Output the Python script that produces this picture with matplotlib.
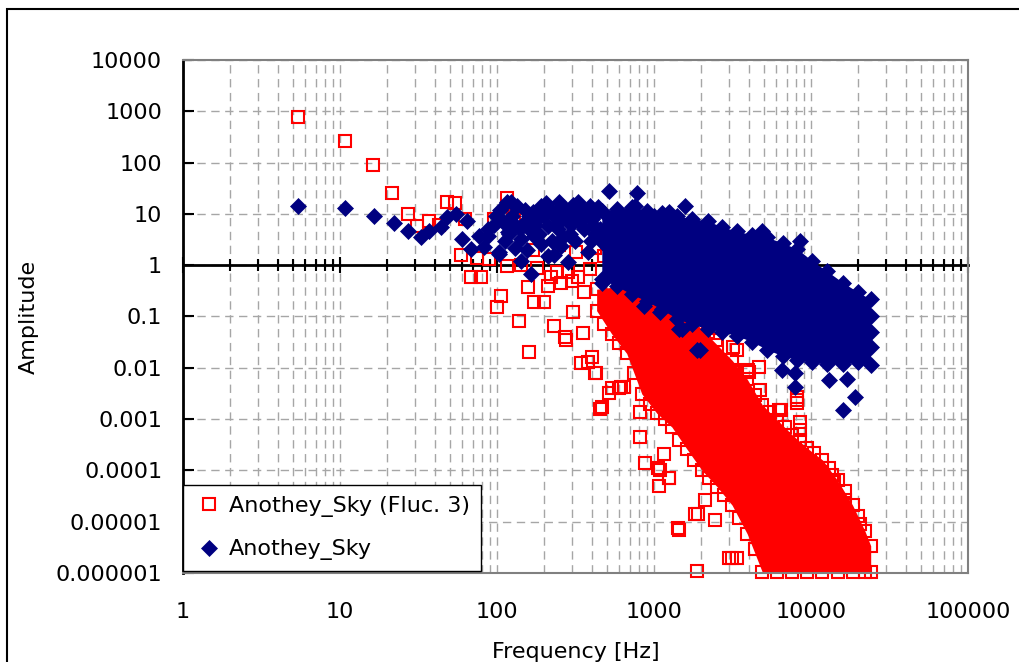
import matplotlib
matplotlib.use("Agg")
import matplotlib.pyplot as plt
from matplotlib.patches import Rectangle

# ---- data (Hz, amplitude) ----
# individual red squares (Fluc. 3) outside the dense band
red_f = [5.4, 10.8, 16.2, 21.5, 27, 31, 37, 43, 48, 54, 59, 63, 68, 75, 79, 89, 96, 100, 106,
         116, 116, 126, 128, 138, 143, 158, 160, 170, 172, 180, 200, 212, 220, 230, 240, 250,
         257, 270, 276, 285, 300, 306, 320, 330, 345, 355, 360, 380, 390, 400, 418, 420, 430,
         450, 465, 480, 515, 540, 560, 600, 620, 640, 700, 810, 810, 870, 1060, 1080, 1100,
         1150, 1240, 1250, 1430, 1440, 1830, 1870, 1900, 2100, 2460, 3000, 3150, 3400, 2220,
         2460, 2500, 2500, 3170, 3200, 3240, 3400, 3630, 3950, 4050, 4670, 4700, 6300, 6400,
         8200, 8200, 8200, 8500, 8500, 11800, 13600, 14000, 16500, 20500,
         480, 600, 750, 940, 1170, 1450, 1800, 2250, 2800, 3500, 4400,
         4400, 5500, 6800, 8500, 10500, 13000, 16500, 20000]
red_a = [780, 260, 88, 26, 10, 5.8, 7.3, 6, 17, 16, 1.6, 8, 0.58, 1.4, 0.58, 1.3, 8, 0.15, 0.25,
         20, 0.95, 13, 9, 0.08, 1.0, 0.37, 0.02, 2.0, 0.19, 0.9, 0.19, 0.39, 0.6, 0.064, 0.75, 2.5,
         0.46, 0.039, 0.035, 0.73, 0.5, 0.125, 1.8, 0.6, 0.0125, 0.048, 0.3, 0.013, 0.83, 0.016,
         0.008, 2.2, 0.008, 0.0016, 0.0017, 1.5, 0.0033, 0.004, 1.2, 0.004, 0.0042, 0.0042, 0.9,
         0.0014, 4.5e-4, 1.4e-4, 1.1e-4, 5e-5, 1e-4, 2.1e-4, 7e-5, 7e-5, 7.5e-6, 7e-6, 1.4e-5,
         1.1e-6, 1.4e-5, 2.6e-5, 1.1e-5, 2e-6, 2e-6, 2e-6, 0.049, 0.0084, 0.035, 0.0091, 0.026,
         0.0084, 0.009, 0.022, 0.0032, 0.009, 0.0084, 0.0106, 0.0037, 0.0015, 0.0015, 0.0027,
         0.0021, 0.0024, 8.8e-4, 6e-4, 1.1e-4, 8e-5, 6e-5, 2.6e-5, 9e-6,
         0.07, 0.03, 0.008, 0.002, 0.001, 4e-4, 1.6e-4, 7e-5, 3.3e-5, 1.2e-5, 3e-6,
         0.003, 0.0014, 7e-4, 4e-4, 2.2e-4, 1.1e-4, 4e-5, 1.3e-5]

# outline of the solid red band (upper / lower edge per frequency)
red_core_f = [431, 537, 670, 836, 1042, 1300, 1621, 2022, 2522, 3145, 3923, 4890, 6100,
              7603, 9480, 11830, 14750, 18400, 22000, 24000]
red_core_hi = [0.34, 0.37, 0.34, 0.30, 0.24, 0.17, 0.11, 0.056, 0.028, 0.014, 0.006, 0.0019,
               9.6e-4, 4.9e-4, 2.7e-4, 1.6e-4, 6.4e-5, 2.1e-5, 6.7e-6, 3.4e-6]
red_core_lo = [0.13, 0.046, 0.019, 0.0031, 0.0013, 7.0e-4, 2.6e-4, 1.0e-4, 4.8e-5, 2.1e-5,
               5.8e-6, 1.05e-6, 1.05e-6, 1.05e-6, 1.05e-6, 1.05e-6, 1.05e-6, 1.05e-6,
               1.05e-6, 1.05e-6]

# individual blue diamonds outside the dense cloud
blue_f = [5.4, 10.7, 16.4, 22, 27, 33, 37, 44, 48, 54.6, 60, 64, 68, 77, 83, 87, 88, 98, 100,
          103, 103, 110, 116, 118, 120, 123, 130, 130, 143, 143, 150, 159, 160, 165, 172, 180,
          190, 192, 200, 212, 212, 230, 230, 250, 250, 257, 270, 285, 290, 300, 320, 330, 350,
          360, 380, 400, 420, 440, 465, 465, 515, 560, 620, 650, 755, 780, 860, 1000, 1100,
          1240, 1450, 1500, 1580, 1870, 1950, 4900, 8500, 6500, 7900, 7900, 13000, 15900,
          17000, 19100, 24000, 24000, 24000,
          95, 105, 112, 125, 135, 140, 150, 155, 170, 175, 185, 195, 205, 220, 225, 240, 245,
          260, 265, 280, 295, 305, 315, 335, 340, 370, 390, 395, 410, 430, 450]
blue_a = [14.3, 13, 9.1, 6.6, 4.6, 3.5, 4.6, 5.5, 8.8, 10, 3.2, 7.3, 2.06, 3.7, 2.25, 3.7, 5, 9,
          9.1, 1.64, 1.8, 7, 17, 4.5, 4, 17, 6, 2.2, 1.2, 3.2, 12, 9, 5, 0.67, 3.7, 8, 2.6, 14, 11,
          5.8, 1.5, 1.6, 9, 17, 7, 2.4, 12, 1.15, 4, 8, 9, 17, 12, 5, 1.8, 8, 4, 13.6, 2.8, 0.46,
          28, 7, 0.73, 1.8, 14, 25, 0.16, 9, 0.12, 11, 0.056, 0.056, 14, 0.022, 0.022, 4.6, 3.0,
          0.0091, 0.008, 0.0043, 0.0058, 0.0015, 0.006, 0.0027, 0.1, 0.05, 0.025,
          6, 12, 3, 9, 14, 5, 7, 2, 11, 6, 4, 9, 16, 12, 3, 10, 5, 14, 3.5, 9, 6, 15, 3, 7, 11, 9,
          14, 3, 6, 10, 5]

# outline of the solid blue cloud
blue_core_f = [465, 580, 720, 900, 1120, 1400, 1750, 2200, 2700, 3380, 4230, 5280, 6600,
               8200, 10200, 12700, 15900, 19900, 24000]
blue_core_hi = [11.4, 12.5, 13.7, 11.4, 10.4, 9.1, 8.0, 7.3, 5.6, 4.6, 3.9, 3.5, 2.7, 2.06,
                1.2, 0.76, 0.46, 0.30, 0.215]
blue_core_lo = [0.53, 0.39, 0.27, 0.20, 0.137, 0.091, 0.070, 0.058, 0.051, 0.042, 0.032,
                0.0225, 0.017, 0.0144, 0.013, 0.012, 0.012, 0.013, 0.0115]

x_ticks = [1, 10, 100, 1000, 10000, 100000]
x_labels = ['1', '10', '100', '1000', '10000', '100000']
y_ticks = [1e4, 1e3, 1e2, 1e1, 1, 1e-1, 1e-2, 1e-3, 1e-4, 1e-5, 1e-6]
y_labels = ['10000', '1000', '100', '10', '1', '0.1', '0.01', '0.001', '0.0001',
            '0.00001', '0.000001']

RED = '#ff0000'
NAVY = '#000080'
GRID = '#a6a6a6'

plt.rcParams['font.family'] = ['DejaVu Sans']
plt.rcParams['font.size'] = 16

fig = plt.figure(figsize=(10.19, 6.62), dpi=100)
ax = fig.add_axes([183 / 1019, 1 - 573 / 662, (968 - 183) / 1019, (573 - 60) / 662])
ax.set_xscale('log')
ax.set_yscale('log')
ax.set_xlim(1, 1e5)
ax.set_ylim(1e-6, 1e4)

# red series: open squares, solid where they pile up
ax.fill_between(red_core_f, red_core_lo, red_core_hi, color=RED, lw=0, zorder=2)
sq = dict(ls='none', marker='s', ms=8.5, mfc='none', mec=RED, mew=1.5, clip_on=False)
ax.plot(red_f, red_a, zorder=2.1, label='Anothey_Sky (Fluc. 3)', **sq)
ax.plot(red_core_f, red_core_hi, zorder=2.05, **sq)
ax.plot(red_core_f, red_core_lo, zorder=2.05, **sq)

# blue series: filled diamonds
ax.fill_between(blue_core_f, blue_core_lo, blue_core_hi, color=NAVY, lw=0, zorder=2.2)
dm = dict(ls='none', marker='D', ms=8.5, mfc=NAVY, mec=NAVY, mew=0.5)
ax.plot(blue_f, blue_a, zorder=2.3, label='Anothey_Sky', **dm)
ax.plot(blue_core_f, blue_core_hi, zorder=2.3, **dm)
ax.plot(blue_core_f, blue_core_lo, zorder=2.3, **dm)

# grid
ax.set_axisbelow(True)
ax.grid(True, axis='x', which='both', color=GRID, ls=(0, (6, 4)), lw=1)
ax.grid(True, axis='y', which='major', color=GRID, ls=(0, (6, 4)), lw=1)

ax.set_xticks(x_ticks, x_labels)
ax.set_yticks(y_ticks, y_labels)
ax.yaxis.set_minor_locator(matplotlib.ticker.NullLocator())
ax.tick_params(axis='x', which='both', length=0, pad=21)
ax.tick_params(axis='y', which='major', direction='in', length=8, width=1.5, pad=15)

for s in ('top', 'right', 'bottom'):
    ax.spines[s].set_color('#808080')
    ax.spines[s].set_linewidth(1.5)
ax.spines['left'].set_color('black')
ax.spines['left'].set_linewidth(2)

# horizontal axis crossing at amplitude = 1
sec = ax.secondary_xaxis(0.6)
sec.set_zorder(1.5)
sec.tick_params(axis='x', which='major', direction='inout', length=12, width=1.5,
                labeltop=False, labelbottom=False, color='black')
sec.tick_params(axis='x', which='minor', direction='inout', length=8, width=1.5,
                labeltop=False, labelbottom=False, color='black')
for s in sec.spines.values():
    s.set_color('black')
    s.set_linewidth(2)

ax.set_xlabel('Frequency [Hz]', labelpad=14)
ax.set_ylabel('Amplitude', labelpad=12)

leg = ax.legend(loc='upper left', bbox_to_anchor=(0.0, 88 / 513), borderaxespad=0,
                fancybox=False, framealpha=1, edgecolor='black', borderpad=0.5,
                handlelength=1.3, handletextpad=0.25, labelspacing=1.0, fontsize=16)
leg.get_frame().set_linewidth(1)
leg.set_zorder(5)

# chart area border
fig.patches.append(Rectangle((7 / 1019, -0.05), 1.2, 1.05 - 9 / 662, transform=fig.transFigure,
                             fill=False, ec='black', lw=1.5))

fig.savefig('out.png', dpi=100)
